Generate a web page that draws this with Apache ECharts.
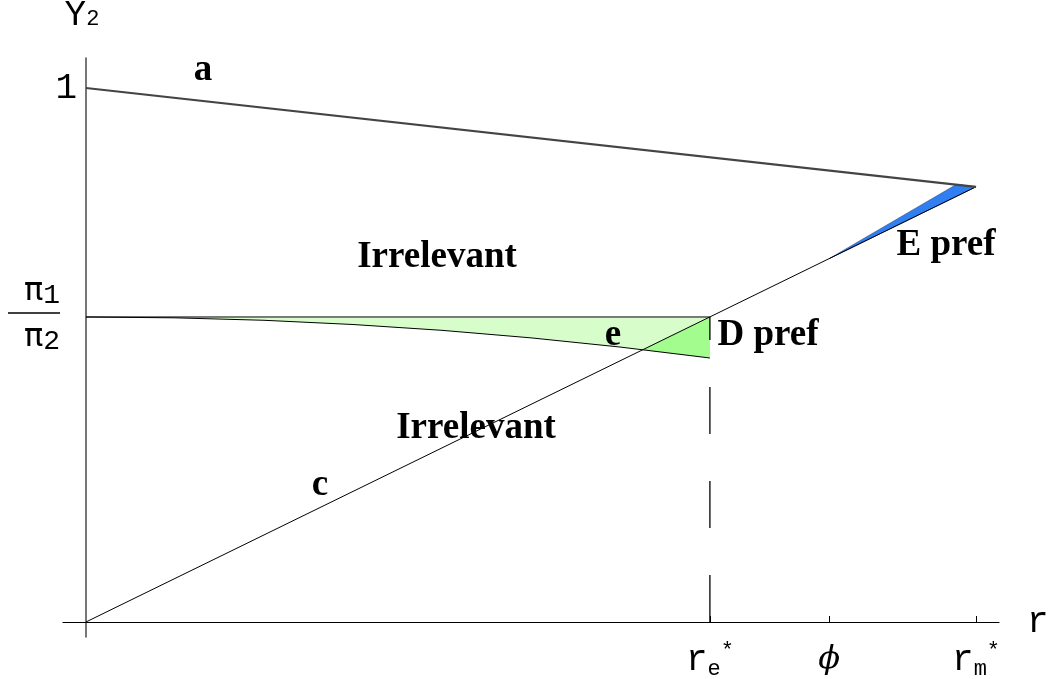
<!DOCTYPE html>
<html>
<head>
<meta charset="utf-8">
<script src="https://cdn.jsdelivr.net/npm/echarts@6/dist/echarts.min.js"></script>
<style>
  html, body { margin: 0; padding: 0; background: #fff; }
  #chart { width: 1052px; height: 679px; }
</style>
</head>
<body>
<div id="chart"></div>
<script>
// r-axis landmarks: r_e*, phi, r_m*
const xTicks = [0.701, 0.835, 1.0];
const xTickNames = ['re', 'phi', 'rm'];
// Y2-axis landmarks: pi1/pi2 and 1
const yTicks = [0.5712, 1];
const yTickNames = ['ratio', 'one'];

// line a: from (0, 1) down to r_m*
const lineA = [[0, 1], [1.0, 0.815]];
// line c: from the origin up to r_m*
const lineC = [[0, 0], [1.0, 0.815]];
// pi1/pi2 level, drawn out to r_e*
const ratioLevel = [[0, 0.5712], [0.701, 0.5712]];
// curve e
const curveX = [0, 0.1, 0.2, 0.3, 0.4, 0.5, 0.6, 0.701];
const curveY = [0.5712, 0.5696, 0.5650, 0.5571, 0.5462, 0.5321, 0.5149, 0.4944];
// dashed guide at r_e*
const reGuide = [[0.701, 0], [0.701, 0.5712]];
// E pref wedge between c and a
const ePrefWedge = [[0.835, 0.6804], [0.978, 0.8195], [1.0, 0.815]];

// text annotations: [text, r, Y2]
const notes = [
  ['a', 0.1315, 1.0337],
  ['Irrelevant', 0.3944, 0.6835],
  ['Irrelevant', 0.4382, 0.3633],
  ['E pref', 0.9663, 0.7060],
  ['D pref', 0.7663, 0.5375],
  ['e', 0.5921, 0.5375],
  ['c', 0.2629, 0.2566]
];

const curvePts = curveX.map((x, i) => [x, curveY[i]]);

// where line c crosses curve e
function cAt(x) {
  const [p0, p1] = lineC;
  return p0[1] + (p1[1] - p0[1]) * (x - p0[0]) / (p1[0] - p0[0]);
}
function crossing() {
  for (let i = 0; i < curvePts.length - 1; i++) {
    const [x0, y0] = curvePts[i], [x1, y1] = curvePts[i + 1];
    const d0 = y0 - cAt(x0), d1 = y1 - cAt(x1);
    if (d0 >= 0 && d1 <= 0) {
      const t = d0 / (d0 - d1);
      return { idx: i, pt: [x0 + t * (x1 - x0), y0 + t * (y1 - y0)] };
    }
  }
  return null;
}
const cross = crossing();

// light green: between the pi1/pi2 level and curve e
const lightGreen = ratioLevel.concat(curvePts.slice().reverse());
// darker green: below line c and above curve e, left of r_e*
const darkGreen = [cross.pt, [ratioLevel[1][0], Math.min(cAt(ratioLevel[1][0]), ratioLevel[1][1])]]
  .concat(curvePts.slice(cross.idx + 1).reverse());

function polygonSeries(points, fill, stroke, strokeWidth) {
  return {
    type: 'custom',
    silent: true,
    data: [0],
    renderItem: function (params, api) {
      return {
        type: 'polygon',
        shape: { points: points.map(p => api.coord(p)) },
        style: { fill: fill, stroke: stroke || 'none', lineWidth: strokeWidth || 0 }
      };
    },
    z: 1
  };
}

function lineSeries(points, color, width, type) {
  return {
    type: 'line',
    data: points,
    showSymbol: false,
    silent: true,
    lineStyle: { color: color, width: width, type: type || 'solid' },
    z: 3
  };
}

const mono = 'Liberation Mono';
const serif = 'Liberation Serif';

const chart = echarts.init(document.getElementById('chart'), null, { renderer: 'canvas' });

chart.setOption({
  animation: false,
  backgroundColor: '#fff',
  grid: { left: 63, right: 53, top: 58, bottom: 42, containLabel: false, outerBoundsMode: 'none' },
  xAxis: {
    type: 'value',
    min: -0.0258,
    max: 1.0258,
    name: 'r',
    nameLocation: 'end',
    nameGap: 28,
    nameTextStyle: { fontFamily: mono, fontSize: 36, color: '#000', verticalAlign: 'middle', padding: [4, 0, 0, 0] },
    axisLine: { onZero: true, lineStyle: { color: '#000', width: 1.2 } },
    splitLine: { show: false },
    axisTick: { show: true, inside: true, length: 6, customValues: xTicks, lineStyle: { color: '#000', width: 1 } },
    axisLabel: {
      show: true,
      customValues: xTicks,
      margin: 3,
      formatter: function (v) {
        const k = xTickNames[xTicks.indexOf(v)];
        if (k === 're') return '{m|r}{sub|e}{sup|*}';
        if (k === 'phi') return '{phi|\u03D5}';
        if (k === 'rm') return '{m|r}{sub|m}{sup|*}';
        return '';
      },
      rich: {
        m: { fontFamily: mono, fontSize: 36, color: '#000', lineHeight: 40 },
        sub: { fontFamily: mono, fontSize: 22, color: '#000', lineHeight: 40, verticalAlign: 'bottom' },
        sup: { fontFamily: mono, fontSize: 22, color: '#000', lineHeight: 40, verticalAlign: 'top' },
        phi: { fontFamily: 'DejaVu Serif', fontStyle: 'italic', fontSize: 32, color: '#000', lineHeight: 40 }
      }
    }
  },
  yAxis: {
    type: 'value',
    min: -0.0281,
    max: 1.0562,
    name: '{m|Y}{sub|2}',
    nameLocation: 'end',
    nameGap: 25,
    nameTextStyle: {
      align: 'center',
      padding: [0, 8, 0, 0],
      rich: {
        m: { fontFamily: mono, fontSize: 36, color: '#000' },
        sub: { fontFamily: mono, fontSize: 22, color: '#000', padding: [8, 0, 0, 0] }
      }
    },
    axisLine: { onZero: true, lineStyle: { color: '#555', width: 1.6 } },
    splitLine: { show: false },
    axisTick: { show: false },
    axisLabel: {
      show: true,
      customValues: yTicks,
      margin: -14,
      formatter: function (v) {
        const k = yTickNames[yTicks.indexOf(v)];
        if (k === 'one') return '{m|1}';
        if (k === 'ratio') return '{piA|\u03C0}{psA|1}{gapA| }\n{bar| }{gapB| }\n{piB|\u03C0}{psB|2}{gapC| }';
        return '';
      },
      rich: {
        m: { fontFamily: mono, fontSize: 36, color: '#000' },
        piA: { fontFamily: 'DejaVu Sans', fontSize: 32, color: '#000', lineHeight: 34 },
        psA: { fontFamily: mono, fontSize: 28, color: '#000', lineHeight: 34, padding: [8, 0, 0, 0] },
        gapA: { width: 17, fontSize: 10, lineHeight: 34 },
        bar: { width: 52, height: 1.5, fontSize: 1, lineHeight: 8, backgroundColor: '#000' },
        gapB: { width: 17, fontSize: 1, lineHeight: 8 },
        piB: { fontFamily: 'DejaVu Sans', fontSize: 32, color: '#000', lineHeight: 42 },
        psB: { fontFamily: mono, fontSize: 28, color: '#000', lineHeight: 42, padding: [8, 0, 0, 0] },
        gapC: { width: 17, fontSize: 10, lineHeight: 42 }
      }
    }
  },
  series: [
    polygonSeries(lightGreen, '#d7fdcb'),
    polygonSeries(darkGreen, '#a2fc8e'),
    polygonSeries(ePrefWedge, '#2f7ef2', '#1b3f80', 0.6),
    lineSeries(reGuide, '#000', 1.3, [47, 47]),
    lineSeries(ratioLevel, '#000', 1),
    lineSeries(curvePts, '#000', 1),
    lineSeries(lineC, '#000', 1),
    lineSeries(lineA, '#444', 2.2),
    {
      type: 'scatter',
      silent: true,
      symbolSize: 0,
      itemStyle: { opacity: 1 },
      data: notes.map(n => ({ name: n[0], value: [n[1], n[2]] })),
      label: {
        show: true,
        position: 'inside',
        formatter: p => p.name,
        fontFamily: serif,
        fontWeight: 'bold',
        fontSize: 37,
        color: '#000',
        opacity: 1,
        textBorderWidth: 0,
        textBorderColor: 'transparent',
        align: 'center',
        verticalAlign: 'middle'
      },
      z: 5
    }
  ]
});
</script>
</body>
</html>
